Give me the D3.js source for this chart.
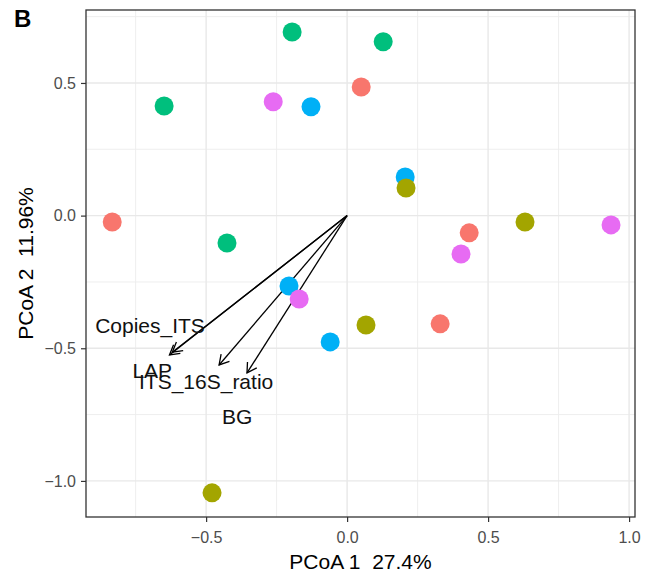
<!DOCTYPE html>
<html>
<head>
<meta charset="utf-8">
<script src="https://cdn.jsdelivr.net/npm/d3@7"></script>
<style>
  html, body { margin: 0; padding: 0; background: #fff; }
  svg { display: block; font-family: "Liberation Sans", Arial, sans-serif; }
  .ttl { white-space: pre; }
</style>
</head>
<body>
<svg id="chart" width="647" height="572"></svg>
<script>
// ---- data ----
const groups = ["G1", "G2", "G3", "G4", "G5"];
const groupColors = ["#F8766D", "#A3A500", "#00BF7D", "#00B0F6", "#E76BF3"];

// samples drawn in this order
const sampleGroup = ["G4","G4","G4","G4",
                     "G1","G1","G1","G1",
                     "G3","G3","G3","G3",
                     "G2","G2","G2","G2",
                     "G5","G5","G5","G5"];
const pcoa1 = [-0.128, 0.206, -0.206, -0.060,
                0.050, -0.833, 0.433, 0.330,
               -0.195, 0.128, -0.649, -0.426,
                0.209, 0.631, 0.067, -0.479,
               -0.262, 0.936, 0.404, -0.170];
const pcoa2 = [ 0.410, 0.146, -0.265, -0.476,
                0.485, -0.024, -0.065, -0.408,
                0.692, 0.655, 0.413, -0.103,
                0.104, -0.024, -0.412, -1.045,
                0.429, -0.035, -0.145, -0.314];

// environmental vectors
const vecNames = ["Copies_ITS", "LAP", "ITS_16S_ratio", "BG"];
const vecX = [-0.620, -0.630, -0.454, -0.355];
const vecY = [-0.515, -0.525, -0.563, -0.593];
const vecLabelX = [-0.699, -0.691, -0.500, -0.390];
const vecLabelY = [-0.416, -0.585, -0.627, -0.759];

const xTicks = [-0.5, 0.0, 0.5, 1.0];
const yTicks = [-1.0, -0.5, 0.0, 0.5];
const xMinor = [-0.75, -0.25, 0.25, 0.75];
const yMinor = [-0.75, -0.25, 0.25, 0.75];
const xTitle = "PCoA 1  27.4%";
const yTitle = "PCoA 2  11.96%";
const panelTag = "B";

// ---- layout ----
const svg = d3.select("#chart");
const L = 86, R = 635, T = 10, B = 517;
const x = d3.scaleLinear().domain([-0.926, 1.021]).range([L, R]);
const y = d3.scaleLinear().domain([-1.136, 0.775]).range([B, T]);
const color = d3.scaleOrdinal().domain(groups).range(groupColors);

// gridlines
const grid = svg.append("g");
grid.selectAll(".vmin").data(xMinor).join("line")
  .attr("x1", d => x(d)).attr("x2", d => x(d)).attr("y1", T).attr("y2", B)
  .attr("stroke", "#ececec").attr("stroke-width", 0.9);
grid.selectAll(".hmin").data(yMinor).join("line")
  .attr("y1", d => y(d)).attr("y2", d => y(d)).attr("x1", L).attr("x2", R)
  .attr("stroke", "#ececec").attr("stroke-width", 0.9);
grid.selectAll(".vmaj").data(xTicks).join("line")
  .attr("x1", d => x(d)).attr("x2", d => x(d)).attr("y1", T).attr("y2", B)
  .attr("stroke", "#e8e8e8").attr("stroke-width", 1.4);
grid.selectAll(".hmaj").data(yTicks).join("line")
  .attr("y1", d => y(d)).attr("y2", d => y(d)).attr("x1", L).attr("x2", R)
  .attr("stroke", "#e8e8e8").attr("stroke-width", 1.4);

// arrows
const arrows = svg.append("g").attr("stroke", "#000").attr("stroke-width", 1.3).attr("fill", "none");
const headLen = 11, headAng = Math.PI / 6;
vecNames.forEach((n, i) => {
  const x0 = x(0), y0 = y(0), x1 = x(vecX[i]), y1 = y(vecY[i]);
  arrows.append("line").attr("x1", x0).attr("y1", y0).attr("x2", x1).attr("y2", y1);
  const a = Math.atan2(y1 - y0, x1 - x0);
  const p = d3.path();
  p.moveTo(x1 - headLen * Math.cos(a - headAng), y1 - headLen * Math.sin(a - headAng));
  p.lineTo(x1, y1);
  p.lineTo(x1 - headLen * Math.cos(a + headAng), y1 - headLen * Math.sin(a + headAng));
  arrows.append("path").attr("d", p.toString()).attr("stroke-linejoin", "miter");
});

// points
svg.append("g").selectAll("circle").data(pcoa1).join("circle")
  .attr("cx", d => x(d))
  .attr("cy", (d, i) => y(pcoa2[i]))
  .attr("r", 9.5)
  .attr("fill", (d, i) => color(sampleGroup[i]));

// vector labels
svg.append("g").selectAll("text").data(vecNames).join("text")
  .attr("x", (d, i) => x(vecLabelX[i]))
  .attr("y", (d, i) => y(vecLabelY[i]))
  .attr("text-anchor", "middle")
  .attr("dominant-baseline", "central")
  .attr("font-size", 21)
  .attr("fill", "#111")
  .text(d => d);

// panel border
svg.append("rect").attr("x", L).attr("y", T).attr("width", R - L).attr("height", B - T)
  .attr("fill", "none").attr("stroke", "#333").attr("stroke-width", 1.3);

// axes
const xAxis = svg.append("g").attr("transform", `translate(0,${B})`)
  .call(d3.axisBottom(x).tickValues(xTicks).tickFormat(d3.format(".1f")).tickSizeInner(5).tickSizeOuter(0).tickPadding(10));
const yAxis = svg.append("g").attr("transform", `translate(${L},0)`)
  .call(d3.axisLeft(y).tickValues(yTicks).tickFormat(d3.format(".1f")).tickSizeInner(5).tickSizeOuter(0).tickPadding(5));
[xAxis, yAxis].forEach(g => {
  g.select(".domain").remove();
  g.selectAll(".tick line").attr("stroke", "#333").attr("stroke-width", 1.2);
  g.selectAll(".tick text").attr("fill", "#4d4d4d").attr("font-size", 16)
    .attr("font-family", "Liberation Sans, Arial, sans-serif");
});

// titles
svg.append("text").attr("class", "ttl").attr("x", (L + R) / 2).attr("y", 569)
  .attr("text-anchor", "middle").attr("font-size", 21).attr("fill", "#000").text(xTitle);
svg.append("text").attr("class", "ttl").attr("transform", `translate(33,${(T + B) / 2}) rotate(-90)`)
  .attr("text-anchor", "middle").attr("font-size", 21).attr("fill", "#000").text(yTitle);
svg.append("text").attr("x", 14).attr("y", 27)
  .attr("font-size", 24).attr("font-weight", "bold").attr("fill", "#000").text(panelTag);
</script>
</body>
</html>
